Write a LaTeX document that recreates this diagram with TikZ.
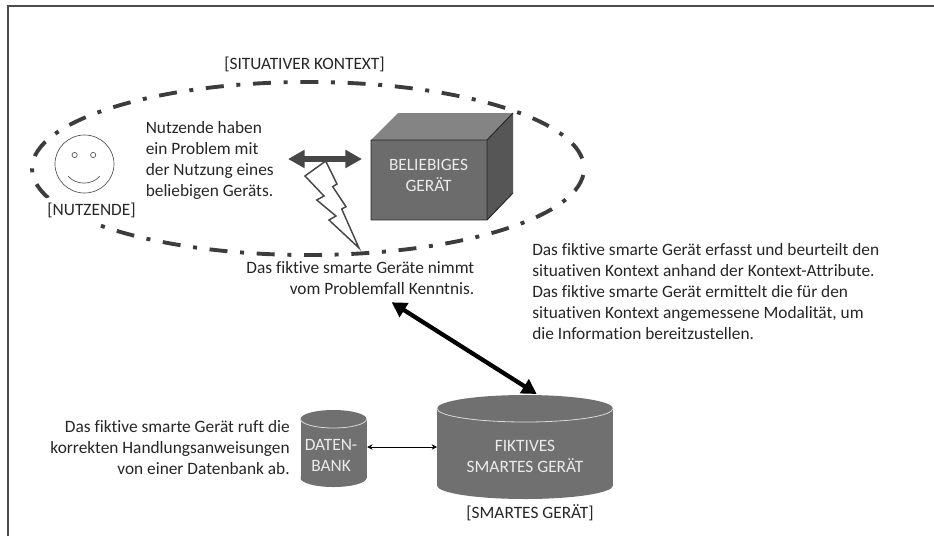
\documentclass[tikz,border=0pt]{standalone}
\usepackage{fontspec}
\setmainfont[Ligatures=NoCommon]{Carlito}
\usetikzlibrary{arrows.meta}
\definecolor{devface}{RGB}{108,108,108}
\definecolor{devtop}{RGB}{132,132,132}
\definecolor{devside}{RGB}{86,86,86}
\definecolor{cyl}{RGB}{112,112,112}
\definecolor{ink}{RGB}{38,38,38}
\tikzset{
  lbl/.style={font=\fontsize{13pt}{15.75pt}\selectfont,text=ink,inner sep=0pt,align=left},
  lblr/.style={lbl,align=right},
  inlbl/.style={font=\fontsize{13pt}{15.75pt}\selectfont,text=white!92!black,inner sep=0pt,align=center},
  ctx/.style={draw=ink!90,line width=2.9pt,dash pattern=on 13.5pt off 9.5pt on 3pt off 9.5pt,dash phase=30.6pt},
  rim/.style={draw=white!85!black,line width=0.6pt},
  bolt/.style={draw=ink!85,line width=1.1pt,fill=white,line join=miter},
  thin/.style={draw=ink!80,line width=0.5pt},
  anchorbox/.style={inner sep=0pt,outer sep=0pt},
}
\begin{document}
\begin{tikzpicture}[x=0.75pt,y=-0.75pt]
\useasboundingbox (0,0) rectangle (934,536);
\fill[white] (0,0) rectangle (934,536);
\coordinate (bl) at (8,536);
\coordinate (tl) at (8,6);
\coordinate (tr) at (934,6);
\draw[draw=black!70,line width=0.9pt] (bl) -- (tl) -- (tr);
% context ellipse
\draw[ctx] (308,168.5) ellipse [x radius=276,y radius=86.5];
\node[lbl,fill=white,minimum width=77pt,minimum height=19.5pt,align=center] (nu) at (91.5,210.5) {[NUTZENDE]};
\node[lbl] (sk) at (304.5,64) {[SITUATIVER KONTEXT]};
% face
\draw[thin] (84.5,164) ellipse [x radius=29.5,y radius=29];
\draw[thin] (74.6,155) circle [radius=2.6];
\draw[thin] (93.2,155) circle [radius=2.6];
\coordinate (ma) at (68,176);
\coordinate (mb) at (100,176);
\draw[thin] (ma) .. controls (76,185.5) and (92,185.5) .. (mb);
\node[lbl,anchor=west] (t1) at (145.5,160) {Nutzende haben\\ein Problem mit\\der Nutzung eines\\beliebigen Geräts.};
% cube
\coordinate (c1) at (371,140);
\coordinate (c2) at (487,140);
\coordinate (c3) at (487,220);
\coordinate (c4) at (371,220);
\coordinate (c5) at (398,113);
\coordinate (c6) at (513,113);
\coordinate (c7) at (513,193);
\fill[devtop] (c1) -- (c5) -- (c6) -- (c2) -- cycle;
\fill[devside] (c2) -- (c6) -- (c7) -- (c3) -- cycle;
\fill[devface] (c1) -- (c2) -- (c3) -- (c4) -- cycle;
\draw[ink,line width=0.7pt,line join=round] (c1) -- (c2) -- (c3) -- (c4) -- cycle (c2) -- (c6) (c3) -- (c7);
\node[inlbl] (dev) at (428.5,175.5) {BELIEBIGES\\GERÄT};
% bolt
\coordinate (b0) at (325.7,161);
\draw[bolt] (b0) -- (305,176) -- (324,196) -- (316.7,200) -- (336,216) -- (329,220) -- (359,248) -- (341.7,209) -- (346,206.7) -- (332.7,186.7) -- (337,184) -- cycle;
% double arrow
\coordinate (da) at (288,159);
\coordinate (db) at (362,159);
\draw[{Triangle[length=12.5pt,width=13pt]}-{Triangle[length=12.5pt,width=13pt]},line width=3.8pt,draw=ink!85,fill=ink!85] (da) -- (db);
\node[lblr,anchor=east] (t2) at (474.5,278.5) {Das fiktive smarte Geräte nimmt\\vom Problemfall Kenntnis.};
\node[lbl,anchor=west] (t3) at (532,291.5) {Das fiktive smarte Gerät erfasst und beurteilt den\\situativen Kontext anhand der Kontext-Attribute.\\Das fiktive smarte Gerät ermittelt die für den\\situativen Kontext angemessene Modalität, um\\die Information bereitzustellen.};
% big cylinder
\fill[cyl] (437,408.5) rectangle (613,485.5);
\fill[cyl] (525,408.5) ellipse [x radius=88,y radius=13.5];
\fill[cyl] (525,485.5) ellipse [x radius=88,y radius=13.5];
\draw[rim] (437,408.5) arc[start angle=180,end angle=0,x radius=88,y radius=13.5];
\node[anchorbox,minimum width=132pt,minimum height=78pt] (bigcyl) at (525,447) {};
\node[inlbl] (smart) at (525,456.5) {FIKTIVES\\SMARTES GERÄT};
\node[lbl] (sg) at (530,513) {[SMARTES GERÄT]};
% small cylinder
\fill[cyl] (300.5,419) rectangle (366.5,478);
\fill[cyl] (333.5,419) ellipse [x radius=33,y radius=9];
\fill[cyl] (333.5,478) ellipse [x radius=33,y radius=9];
\draw[rim] (300.5,419) arc[start angle=180,end angle=0,x radius=33,y radius=9];
\node[anchorbox,minimum width=50.5pt,minimum height=55pt] (dbcyl) at (333.5,447) {};
\node[inlbl] (dbtxt) at (331,455) {DATEN-\\BANK};
\node[lblr,anchor=east] (t4) at (290,448) {Das fiktive smarte Gerät ruft die\\korrekten Handlungsanweisungen\\von einer Datenbank ab.};
% connectors
\draw[{Stealth[length=4pt,width=4pt]}-{Stealth[length=4pt,width=4pt]},draw=black,line width=0.6pt] (dbcyl) -- (bigcyl);
\coordinate (ta) at (391.7,302.3);
\coordinate (tb) at (536.7,394);
\draw[{Triangle[length=11pt,width=12pt]}-{Triangle[length=11pt,width=12pt]},draw=black,fill=black,line width=3.2pt] (ta) -- (tb);
\end{tikzpicture}
\end{document}
